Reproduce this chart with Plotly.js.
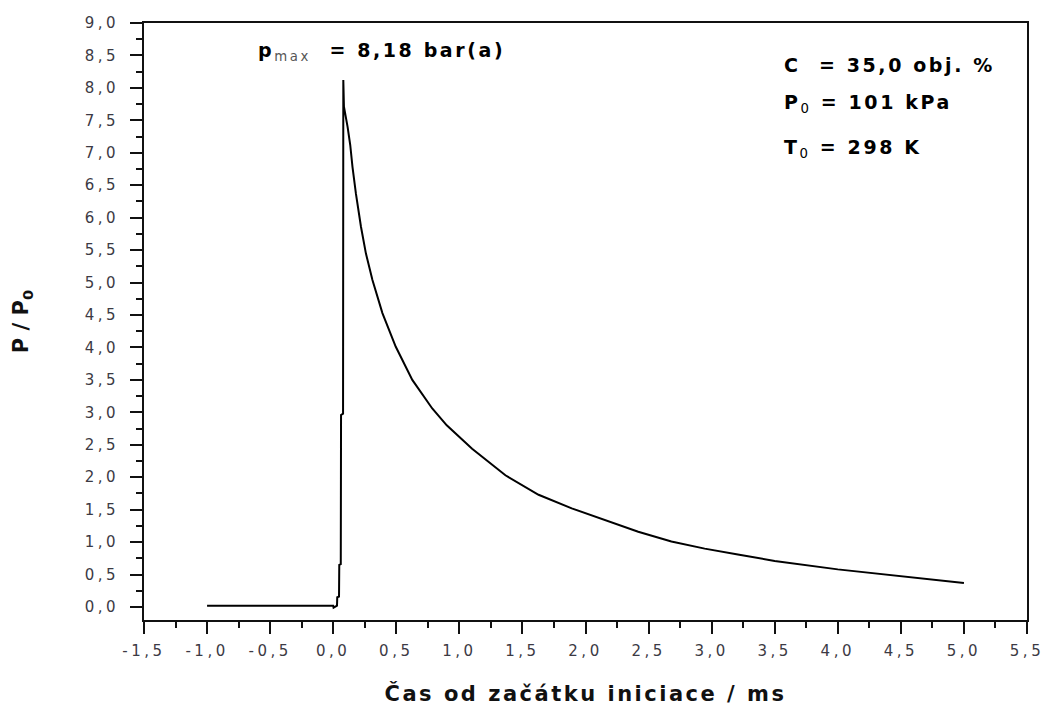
<!DOCTYPE html>
<html>
<head>
<meta charset="utf-8">
<script src="https://cdn.plot.ly/plotly-3.0.1.min.js"></script>
<style>
  html, body { margin: 0; padding: 0; background: #fff; }
  #chart { width: 1045px; height: 706px; }
  .xtick text, .ytick text { letter-spacing: 3.5px; }
  text.xtitle { letter-spacing: 2.5px; }
  text.annotation-text { letter-spacing: 2.6px; }
</style>
</head>
<body>
<div id="chart"></div>
<script>
// Time from the start of initiation (ms)
const time_ms = [-1.0, 0.0, 0.003, 0.030, 0.032, 0.046, 0.048, 0.060, 0.062, 0.078, 0.080, 0.085,
  0.114, 0.135, 0.153, 0.180, 0.220, 0.259, 0.311, 0.390, 0.496, 0.627, 0.785, 0.900, 1.022, 1.101,
  1.365, 1.628, 1.891, 2.155, 2.418, 2.681, 2.945, 3.208, 3.5, 4.0, 4.5, 5.0];
// Relative pressure P / P0
const pressure_ratio = [0.02, 0.02, -0.01, 0.02, 0.15, 0.16, 0.65, 0.66, 2.96, 2.98, 8.12, 7.71,
  7.40, 7.12, 6.78, 6.37, 5.86, 5.45, 5.04, 4.53, 4.01, 3.50, 3.06, 2.80, 2.58, 2.44,
  2.03, 1.73, 1.52, 1.34, 1.16, 1.01, 0.90, 0.81, 0.71, 0.58, 0.48, 0.37];

// Tick labels (comma decimals, hyphen minus as in the original)
const x_tick_vals = [-1.5, -1.0, -0.5, 0.0, 0.5, 1.0, 1.5, 2.0, 2.5, 3.0, 3.5, 4.0, 4.5, 5.0, 5.5];
const x_tick_labels = ['-1,5', '-1,0', '-0,5', '0,0', '0,5', '1,0', '1,5', '2,0', '2,5', '3,0', '3,5', '4,0', '4,5', '5,0', '5,5'];
const y_tick_vals = [0.0, 0.5, 1.0, 1.5, 2.0, 2.5, 3.0, 3.5, 4.0, 4.5, 5.0, 5.5, 6.0, 6.5, 7.0, 7.5, 8.0, 8.5, 9.0];
const y_tick_labels = ['0,0', '0,5', '1,0', '1,5', '2,0', '2,5', '3,0', '3,5', '4,0', '4,5', '5,0', '5,5', '6,0', '6,5', '7,0', '7,5', '8,0', '8,5', '9,0'];

const xTitle = 'Čas od začátku iniciace / ms';
const yTitle = 'P / P<sub>0</sub>';
const pmaxLabel = '<b>p</b><span style="color:#555"><sub>max</sub></span><b>  = 8,18 bar(a)</b>';
const condC = '<b>C  = 35,0 obj. %</b>';
const condP = '<b>P</b><sub>0</sub><b> = 101 kPa</b>';
const condT = '<b>T</b><sub>0</sub><b> = 298 K</b>';

const FONT = 'DejaVu Sans, Arial, sans-serif';
const INK = '#111111';

const trace = {
  type: 'scatter',
  mode: 'lines',
  x: time_ms,
  y: pressure_ratio,
  line: { color: '#000000', width: 2 },
  hoverinfo: 'x+y',
  showlegend: false
};

const axisCommon = {
  showgrid: false,
  zeroline: false,
  showline: true,
  linewidth: 2,
  linecolor: INK,
  mirror: true,
  ticks: 'outside',
  ticklen: 12,
  tickwidth: 2,
  tickcolor: INK,
  tickmode: 'array',
  ticklabeloverflow: 'allow',
  tickfont: { family: FONT, size: 15, color: '#3c3a44' }
};

const layout = {
  width: 1045,
  height: 706,
  margin: { l: 144, r: 18, t: 23, b: 86 },
  paper_bgcolor: '#ffffff',
  plot_bgcolor: '#ffffff',
  font: { family: FONT, color: '#000' },
  xaxis: Object.assign({}, axisCommon, {
    range: [-1.5, 5.5],
    tickvals: x_tick_vals,
    ticktext: x_tick_labels,
    ticklabelstandoff: 4,
    minor: { ticks: 'outside', ticklen: 6, tickwidth: 2, tickcolor: INK, showgrid: false, tickmode: 'linear', tick0: -1.5, dtick: 0.25 },
    title: { text: xTitle, font: { family: FONT, size: 21, color: '#111', weight: 'bold' }, standoff: 32 }
  }),
  yaxis: Object.assign({}, axisCommon, {
    range: [-0.2, 9.0],
    tickvals: y_tick_vals,
    ticktext: y_tick_labels,
    ticklabelstandoff: 8,
    minor: { ticks: 'outside', ticklen: 6, tickwidth: 2, tickcolor: INK, showgrid: false, tickmode: 'linear', tick0: 0, dtick: 0.25 },
    title: { text: yTitle, font: { family: FONT, size: 21, color: '#111', weight: 'bold' }, standoff: 50 }
  }),
  annotations: [
    { text: pmaxLabel, xref: 'paper', yref: 'paper', x: 0.127, y: 0.952, xanchor: 'left', yanchor: 'middle',
      showarrow: false, font: { family: FONT, size: 19, color: '#000' } },
    { text: condC, xref: 'paper', yref: 'paper', x: 0.723, y: 0.93, xanchor: 'left', yanchor: 'middle',
      showarrow: false, font: { family: FONT, size: 19, color: '#000' } },
    { text: condP, xref: 'paper', yref: 'paper', x: 0.723, y: 0.865, xanchor: 'left', yanchor: 'middle',
      showarrow: false, font: { family: FONT, size: 19, color: '#000' } },
    { text: condT, xref: 'paper', yref: 'paper', x: 0.723, y: 0.79, xanchor: 'left', yanchor: 'middle',
      showarrow: false, font: { family: FONT, size: 19, color: '#000' } }
  ]
};

Plotly.newPlot('chart', [trace], layout, { displayModeBar: false, staticPlot: true });
</script>
</body>
</html>
